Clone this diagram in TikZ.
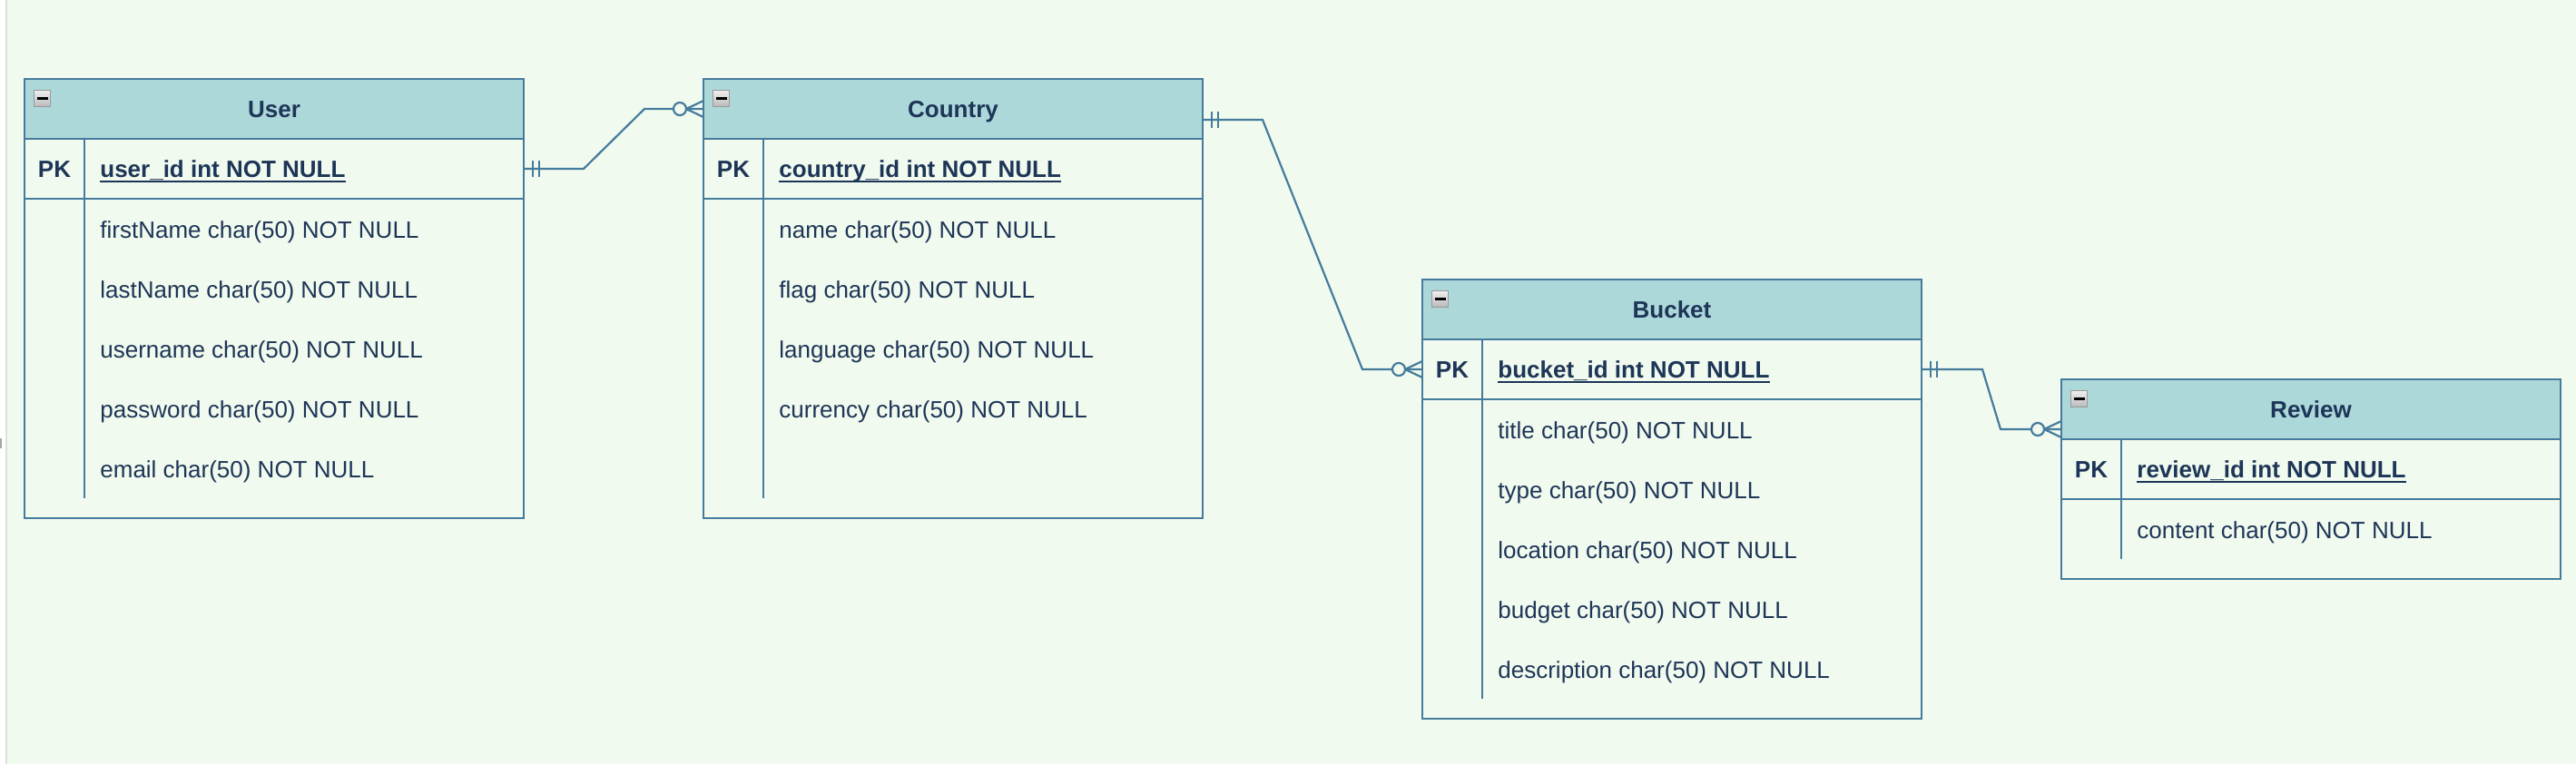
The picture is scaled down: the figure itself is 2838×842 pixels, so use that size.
\documentclass[tikz,border=0pt]{standalone}
\usepackage{fontspec}
\setmainfont{Liberation Sans}
\usetikzlibrary{calc}
\definecolor{bgc}{HTML}{F1FAEE}
\definecolor{hdc}{HTML}{ADD8DA}
\definecolor{stc}{HTML}{457B9D}
\definecolor{ftc}{HTML}{1D3557}
\tikzset{
  tblhead/.style={draw=stc, line width=1.25pt, fill=hdc, minimum width=275pt, minimum height=33pt,
    anchor=north west, inner sep=0pt, outer sep=0pt, font=\fontsize{13pt}{15pt}\selectfont\bfseries,
    text=ftc, text height=9.3pt, text depth=0pt},
  tblpk/.style={draw=stc, line width=1.25pt, minimum width=275pt, minimum height=33pt,
    anchor=north west, inner sep=0pt, outer sep=0pt},
  tblbody/.style={draw=stc, line width=1.25pt, minimum width=275pt, anchor=north west,
    inner sep=0pt, outer sep=0pt},
  pktxt/.style={font=\fontsize{13pt}{15pt}\selectfont\bfseries, text=ftc, inner sep=0pt,
    text height=9.3pt, text depth=0pt},
  keytxt/.style={pktxt, anchor=west},
  fldtxt/.style={font=\fontsize{13pt}{15pt}\selectfont, text=ftc, inner sep=0pt,
    text height=9.3pt, text depth=0pt, anchor=west},
  divline/.style={draw=stc, line width=1.25pt},
  ulline/.style={draw=ftc, line width=1pt},
  iconbox/.style={anchor=north west, minimum size=9pt, inner sep=0pt, draw=gray!80, line width=0.6pt,
    top color=gray!12, bottom color=gray!55,
    path picture={\draw[black, line width=1.4pt]
      ($(path picture bounding box.center)+(-3pt,0)$) -- ($(path picture bounding box.center)+(3pt,0)$);}},
  conn/.style={draw=stc, line width=1.1pt},
}
% underline of a key field
\newcommand{\keyul}[1]{%
  \draw[ulline] ($(#1.south west)+(0,-2pt)$) -- ($(#1.south east)+(0,-2pt)$);}
% one-mandatory end (bars to the right of the point)
\newcommand{\mandoneR}[1]{%
  \draw[conn] ($(#1)+(5pt,4.5pt)$) -- ++(0,-9pt);
  \draw[conn] ($(#1)+(8.5pt,4.5pt)$) -- ++(0,-9pt);}
% zero-to-many end (crow's foot at the point, opening to the right)
\newcommand{\zeromanyL}[1]{%
  \draw[conn] ($(#1)+(-9.5pt,0)$) -- ($(#1)+(0,4.5pt)$);
  \draw[conn] ($(#1)+(-9.5pt,0)$) -- ($(#1)+(0,-4.5pt)$);
  \draw[conn, fill=bgc] ($(#1)+(-13pt,0)$) circle[radius=3.5pt];}
\begin{document}
\begin{tikzpicture}[x=0.5pt, y=-0.5pt]
\useasboundingbox (0,0) rectangle (2838,842);
\fill[bgc] (0,0) rectangle (2838,842);
\fill[white] (0,0) rectangle (6,842);
\draw[gray!25, line width=1pt] (6.5,0) -- (6.5,842);
\fill[gray!70] (0,483) rectangle (2,494);

% ---------- User ----------
\node[tblhead] (userhead) at (27,87) {User};
\node[iconbox] (usericon) at ($(userhead.north west)+(5pt,-6pt)$) {};
\node[tblpk] (userpk) at (userhead.south west) {};
\node[tblbody, minimum height=176pt] (userbody) at (userpk.south west) {};
\draw[divline] ($(userpk.north west)+(33pt,0)$) -- ($(userbody.south west)+(33pt,11pt)$);
\node[pktxt] (userpkl) at ($(userpk.west)+(16.5pt,0)$) {PK};
\node[keytxt] (userpkf) at ($(userpk.west)+(41.5pt,0)$) {user\_id int NOT NULL};
\keyul{userpkf}
\node[fldtxt] (userf1) at ($(userbody.north west)+(41.5pt,-17pt)$) {firstName char(50) NOT NULL};
\node[fldtxt] (userf2) at ($(userbody.north west)+(41.5pt,-50pt)$) {lastName char(50) NOT NULL};
\node[fldtxt] (userf3) at ($(userbody.north west)+(41.5pt,-83pt)$) {username char(50) NOT NULL};
\node[fldtxt] (userf4) at ($(userbody.north west)+(41.5pt,-116pt)$) {password char(50) NOT NULL};
\node[fldtxt] (userf5) at ($(userbody.north west)+(41.5pt,-149pt)$) {email char(50) NOT NULL};

% ---------- Country ----------
\node[tblhead] (countryhead) at (775,87) {Country};
\node[iconbox] (countryicon) at ($(countryhead.north west)+(5pt,-6pt)$) {};
\node[tblpk] (countrypk) at (countryhead.south west) {};
\node[tblbody, minimum height=176pt] (countrybody) at (countrypk.south west) {};
\draw[divline] ($(countrypk.north west)+(33pt,0)$) -- ($(countrybody.south west)+(33pt,11pt)$);
\node[pktxt] (countrypkl) at ($(countrypk.west)+(16.5pt,0)$) {PK};
\node[keytxt] (countrypkf) at ($(countrypk.west)+(41.5pt,0)$) {country\_id int NOT NULL};
\keyul{countrypkf}
\node[fldtxt] (countryf1) at ($(countrybody.north west)+(41.5pt,-17pt)$) {name char(50) NOT NULL};
\node[fldtxt] (countryf2) at ($(countrybody.north west)+(41.5pt,-50pt)$) {flag char(50) NOT NULL};
\node[fldtxt] (countryf3) at ($(countrybody.north west)+(41.5pt,-83pt)$) {language char(50) NOT NULL};
\node[fldtxt] (countryf4) at ($(countrybody.north west)+(41.5pt,-116pt)$) {currency char(50) NOT NULL};

% ---------- Bucket ----------
\node[tblhead] (buckethead) at (1567,308) {Bucket};
\node[iconbox] (bucketicon) at ($(buckethead.north west)+(5pt,-6pt)$) {};
\node[tblpk] (bucketpk) at (buckethead.south west) {};
\node[tblbody, minimum height=176pt] (bucketbody) at (bucketpk.south west) {};
\draw[divline] ($(bucketpk.north west)+(33pt,0)$) -- ($(bucketbody.south west)+(33pt,11pt)$);
\node[pktxt] (bucketpkl) at ($(bucketpk.west)+(16.5pt,0)$) {PK};
\node[keytxt] (bucketpkf) at ($(bucketpk.west)+(41.5pt,0)$) {bucket\_id int NOT NULL};
\keyul{bucketpkf}
\node[fldtxt] (bucketf1) at ($(bucketbody.north west)+(41.5pt,-17pt)$) {title char(50) NOT NULL};
\node[fldtxt] (bucketf2) at ($(bucketbody.north west)+(41.5pt,-50pt)$) {type char(50) NOT NULL};
\node[fldtxt] (bucketf3) at ($(bucketbody.north west)+(41.5pt,-83pt)$) {location char(50) NOT NULL};
\node[fldtxt] (bucketf4) at ($(bucketbody.north west)+(41.5pt,-116pt)$) {budget char(50) NOT NULL};
\node[fldtxt] (bucketf5) at ($(bucketbody.north west)+(41.5pt,-149pt)$) {description char(50) NOT NULL};

% ---------- Review ----------
\node[tblhead] (reviewhead) at (2271,418) {Review};
\node[iconbox] (reviewicon) at ($(reviewhead.north west)+(5pt,-6pt)$) {};
\node[tblpk] (reviewpk) at (reviewhead.south west) {};
\node[tblbody, minimum height=44pt] (reviewbody) at (reviewpk.south west) {};
\draw[divline] ($(reviewpk.north west)+(33pt,0)$) -- ($(reviewbody.south west)+(33pt,11pt)$);
\node[pktxt] (reviewpkl) at ($(reviewpk.west)+(16.5pt,0)$) {PK};
\node[keytxt] (reviewpkf) at ($(reviewpk.west)+(41.5pt,0)$) {review\_id int NOT NULL};
\keyul{reviewpkf}
\node[fldtxt] (reviewf1) at ($(reviewbody.north west)+(41.5pt,-17pt)$) {content char(50) NOT NULL};

% ---------- Connectors ----------
\coordinate (ucS) at (userpk.east);
\coordinate (ucT) at (countryhead.west);
\draw[conn] (ucS) -- ++(33pt,0) -- ($(ucT)+(-32.5pt,0)$) -- (ucT);
\mandoneR{ucS}
\zeromanyL{ucT}

\coordinate (cbS) at ($(countryhead.east)+(0,-6pt)$);
\coordinate (cbT) at (bucketpk.west);
\draw[conn] (cbS) -- ++(33pt,0) -- ($(cbT)+(-33pt,0)$) -- (cbT);
\mandoneR{cbS}
\zeromanyL{cbT}

\coordinate (brS) at (bucketpk.east);
\coordinate (brT) at ($(reviewhead.west)+(0,-11pt)$);
\draw[conn] (brS) -- ++(33.5pt,0) -- ($(brT)+(-33.5pt,0)$) -- (brT);
\mandoneR{brS}
\zeromanyL{brT}
\end{tikzpicture}
\end{document}
